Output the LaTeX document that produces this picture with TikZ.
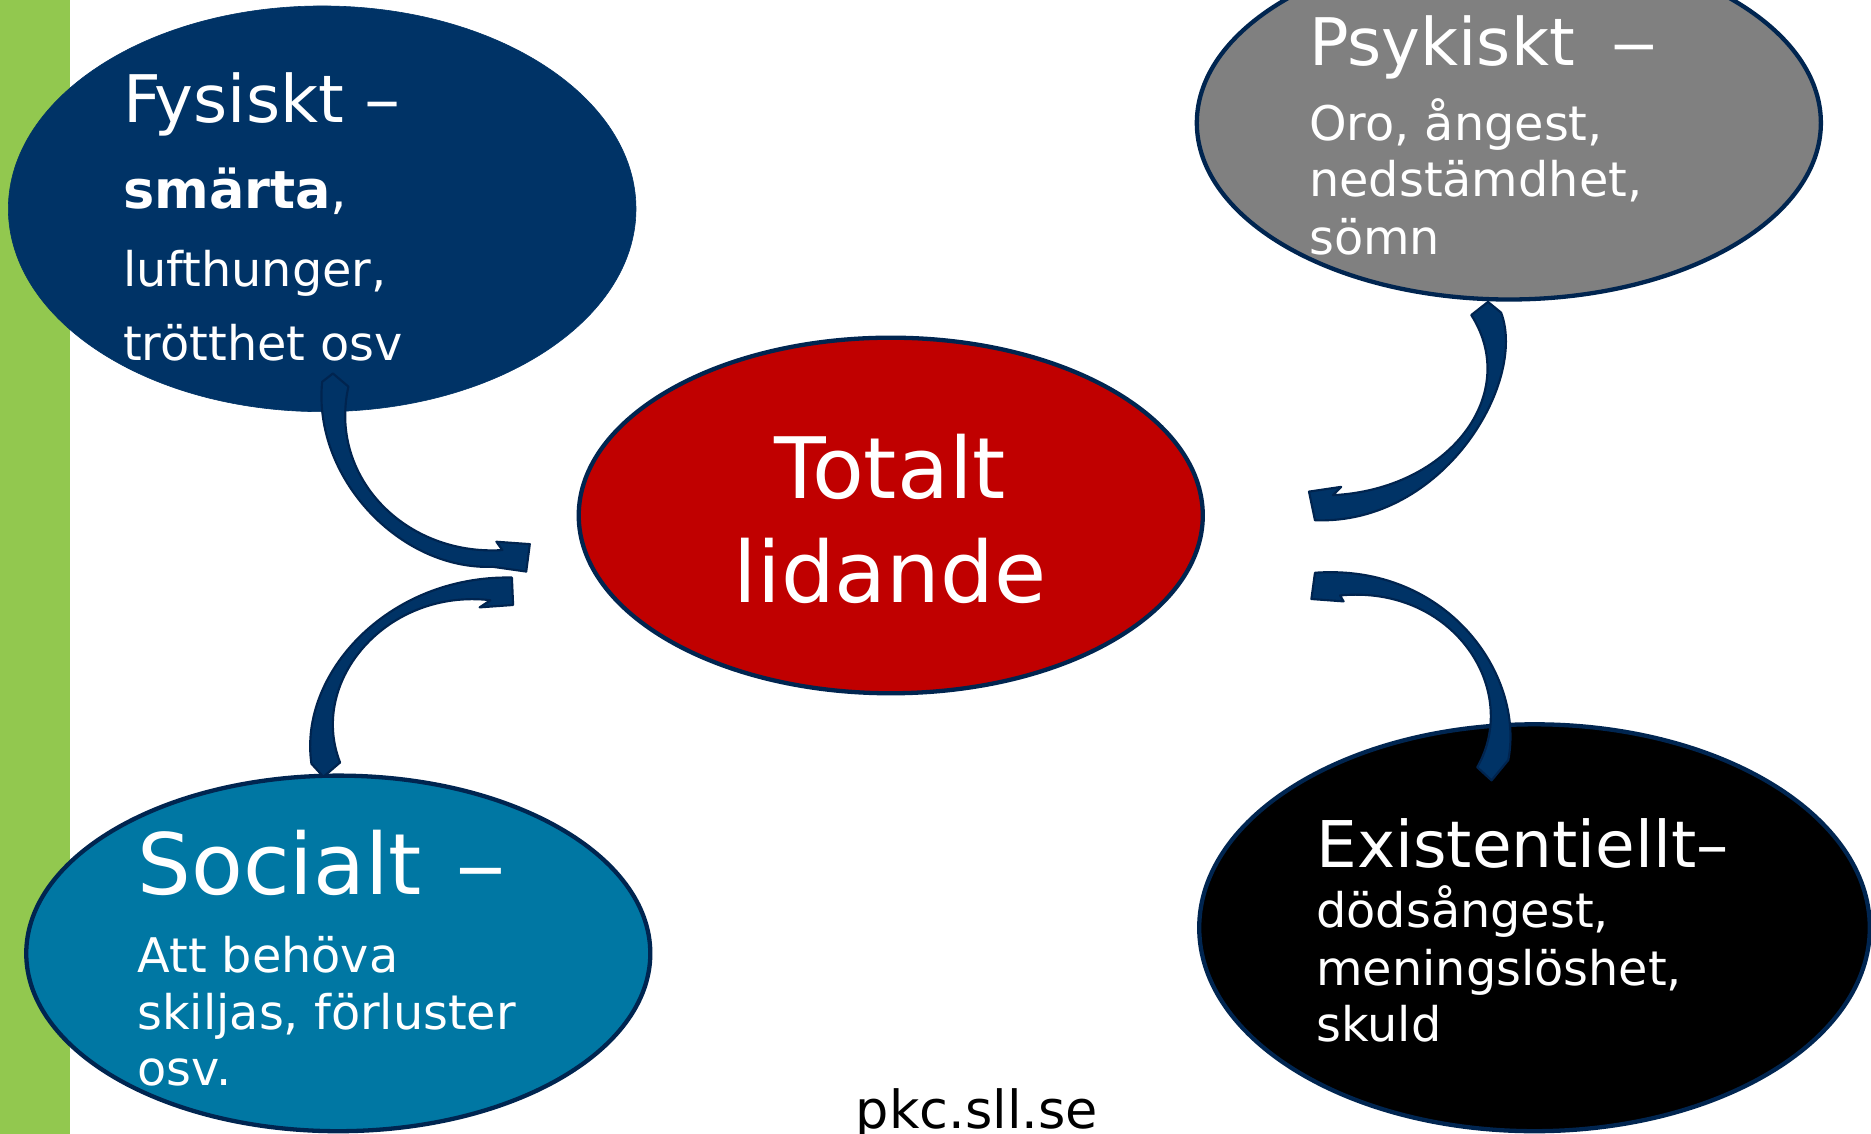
\documentclass[tikz,border=0pt]{standalone}
\usepackage{fontspec}
\setmainfont{DejaVu Sans}
\usetikzlibrary{shapes.geometric}
\definecolor{barGreen}{HTML}{92C84F}
\definecolor{fysBlue}{HTML}{003366}
\definecolor{psyGray}{HTML}{808080}
\definecolor{totRed}{HTML}{C00000}
\definecolor{socBlue}{HTML}{0077A3}
\definecolor{edgeBlue}{HTML}{002550}
\definecolor{arrowBlue}{HTML}{003366}
\definecolor{arrowEdge}{HTML}{00244F}
\tikzset{
  blob/.style={ellipse, inner sep=0pt, line width=3.6pt, draw=edgeBlue},
  lbl/.style={anchor=base west, inner sep=0pt, text=white},
  clbl/.style={anchor=base, inner sep=0pt, text=white},
  arrowshape/.style={fill=arrowBlue, draw=arrowEdge, line width=1.8pt, line join=round},
  small/.style={font=\fontsize{40}{46}\selectfont},
}
\begin{document}
\begin{tikzpicture}[x=1pt,y=-1pt]
\useasboundingbox (0,0) rectangle (1568,950);
\clip (0,0) rectangle (1568,950);
\fill[white] (0,0) rectangle (1568,950);
% green bar
\fill[barGreen] (0,0) rectangle (59,950);
% ellipses
\node[blob, fill=fysBlue, draw=fysBlue, line width=0.5pt, minimum width=526pt, minimum height=340pt] (fys) at (270,175) {};
\node[blob, fill=psyGray, minimum width=523pt, minimum height=296pt] (psy) at (1264.5,103) {};
\node[blob, fill=totRed, minimum width=523pt, minimum height=298pt] (tot) at (746.5,432) {};
\node[blob, fill=socBlue, minimum width=523pt, minimum height=298pt] (soc) at (283.5,799) {};
\node[blob, fill=black, minimum width=562pt, minimum height=341pt] (exi) at (1286,777.5) {};
% Fysiskt
\node[lbl, font=\fontsize{55}{60}\selectfont] (fys1) at (103,103) {Fysiskt \scalebox{1.1}[1]{–}};
\node[lbl, font=\fontsize{44}{50}\selectfont] (fys2) at (103,175) {\textbf{smärta},};
\node[lbl, small] (fys3) at (103,240) {lufthunger,};
\node[lbl, small] (fys4) at (103,302) {trötthet osv};
% Psykiskt
\node[lbl, font=\fontsize{55}{60}\selectfont] (psy1) at (1097,55) {Psykiskt\hspace{30pt}\scalebox{1.45}[1]{–}};
\node[lbl, small] (psy2) at (1097,118) {Oro, ångest,};
\node[lbl, small] (psy3) at (1097,165) {nedstämdhet,};
\node[lbl, small] (psy4) at (1097,213) {sömn};
% Totalt
\node[clbl, font=\fontsize{71}{80}\selectfont] (tot1) at (746,418) {Totalt};
\node[clbl, font=\fontsize{71}{80}\selectfont] (tot2) at (746,505) {lidande};
% Socialt
\node[lbl, font=\fontsize{71}{80}\selectfont] (soc1) at (115,750) {Socialt\hspace{28pt}\scalebox{1.2}[1]{–}};
\node[lbl, small] (soc2) at (115,815) {Att behöva};
\node[lbl, small] (soc3) at (115,863) {skiljas, förluster};
\node[lbl, small] (soc4) at (115,910) {osv.};
% Existentiellt
\node[lbl, font=\fontsize{54}{60}\selectfont] (exi1) at (1103,727) {Existentiellt–};
\node[lbl, small] (exi2) at (1103,777) {dödsångest,};
\node[lbl, small] (exi3) at (1103,826) {meningslöshet,};
\node[lbl, small] (exi4) at (1103,873) {skuld};
% footer
\node[anchor=base west, inner sep=0pt, text=black, font=\fontsize{44}{50}\selectfont] (url) at (717,946) {pkc.sll.se};
% arrows
\filldraw[arrowshape] (279,313) -- (292,324) .. controls (275,400) and (340,466) .. (421,461)
  -- (416,454) -- (444,456) -- (441,479) -- (413,475) .. controls (335,478) and (262,400) .. (270,320) -- cycle;
\filldraw[arrowshape] (271,651) -- (261,640) .. controls (250,565) and (325,482) .. (429,484)
  -- (430,507) -- (402,509) -- (411,503) .. controls (325,493) and (258,570) .. (285,639) -- cycle;
\filldraw[arrowshape] (1247,253) -- (1258,262) .. controls (1280,320) and (1210,440) .. (1102,436)
  -- (1097,412) -- (1124,408) -- (1117,415) .. controls (1215,410) and (1275,330) .. (1233,264) -- cycle;
\filldraw[arrowshape] (1250,654) -- (1238,643) .. controls (1275,578) and (1218,490) .. (1123,499)
  -- (1126,504) -- (1099,502) -- (1102,480) .. controls (1212,472) and (1278,565) .. (1264,637) -- cycle;
\end{tikzpicture}
\end{document}
